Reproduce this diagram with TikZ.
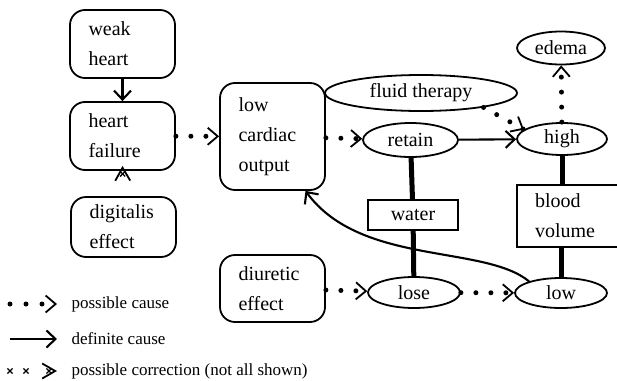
\documentclass[tikz,border=0pt]{standalone}
\usepackage{fontspec}
\setmainfont{Liberation Serif}
\usetikzlibrary{arrows.meta,shapes.geometric,decorations.markings}
\newcommand\xmark{\draw[line width=1.3pt,solid,line cap=butt] (-2.6pt,-2.6pt)--(2.6pt,2.6pt) (-2.6pt,2.6pt)--(2.6pt,-2.6pt);}

\begin{document}
\begin{tikzpicture}[x=1pt,y=-1pt,
  box/.style={draw,line width=1.8pt,rounded corners=15pt,align=left,text width=68pt,
    inner xsep=18pt,inner ysep=0pt,minimum width=105pt,font=\fontsize{20}{30}\selectfont},
  oval/.style={ellipse,draw,line width=1.8pt,inner sep=0pt,font=\fontsize{20}{24}\selectfont},
  plain/.style={draw,line width=1.8pt,inner sep=0pt,font=\fontsize{20}{30}\selectfont},
  legend/.style={anchor=west,font=\fontsize{17}{20}\selectfont},
  cause/.style={line width=2.1pt,-{Straight Barb[length=9pt,width=17pt]}},
  maybe/.style={line width=5pt,line cap=round,dash pattern=on 0pt off 15pt,
    postaction={draw,line width=1.8pt,line cap=butt,dash pattern=on 0pt off 3000pt,
      -{Straight Barb[length=10pt,width=17pt]}}},
  fix/.style={draw=none,
    postaction={draw,line width=1.8pt,line cap=butt,dash pattern=on 0pt off 3000pt,
      -{Straight Barb[length=13pt,width=15pt]}},
    postaction={decorate,decoration={markings,mark=at position -8pt with {\xmark}}}},
  link/.style={line width=5pt}]
\useasboundingbox (0,0) rectangle (617,380);
\fill[white] (0,0) rectangle (617,380);

% HEART CHAIN
\node[box,minimum height=68pt] (wk) at (122.5,44) {weak\\heart};
\node[box,minimum height=68pt] (hf) at (122.5,136) {heart\\failure};
\node[box,minimum height=60pt] (dg) at (123.5,227) {digitalis\\effect};
\node[box,minimum height=107pt] (lco) at (272.5,136.5) {low\\cardiac\\output};
\node[box,minimum height=67pt] (du) at (272.5,288.5) {diuretic\\effect};

\draw[cause] (wk) -- (hf);
\draw[fix] (dg) -- ([yshift=5pt]hf.south);
\draw[maybe] (hf) -- (lco);

% WATER AND BLOOD VOLUME
\node[oval,minimum width=192pt,minimum height=36pt] (ft) at (421,93) {fluid therapy};
\node[oval,minimum width=95pt,minimum height=34pt] (ret) at (410.5,140) {retain};
\node[oval,minimum width=90pt,minimum height=32pt] (hi) at (562,139) {high};
\node[oval,minimum width=88pt,minimum height=33pt] (ed) at (561,48) {edema};
\node[oval,minimum width=92pt,minimum height=31pt] (ls) at (414,292.5) {lose};
\node[oval,minimum width=92pt,minimum height=30pt] (lw) at (561,293) {low};
\node[plain,minimum width=90pt,minimum height=30pt] (wt) at (413,215) {water};
\node[plain,align=left,text width=67pt,inner xsep=18pt,minimum height=62pt] (bv) at (568.5,216) {blood\\volume};

\draw[maybe] (lco) -- (ret);
\draw[cause] (ret) -- (hi);
\draw[maybe] (ft.-13) -- (hi.166);
\draw[maybe] (hi) -- (ed);
\draw[maybe] (du) -- (ls);
\draw[maybe] (ls) -- (lw);
\draw[link] (ret) -- (wt);
\draw[link] (wt) -- (ls);
\draw[link] (hi) -- (hi.south |- bv.north);
\draw[link] (lw.north |- bv.south) -- (lw);
\draw[cause] (lw.160) .. controls +(-45,-37) and +(55,75) .. ([xshift=33pt]lco.south);

% KEY
\coordinate (k1a) at (10,304); \coordinate (k1b) at (57,304);
\coordinate (k2a) at (10,339); \coordinate (k2b) at (57,339);
\coordinate (k3a) at (10,371); \coordinate (k3b) at (57,371);
\draw[maybe,dash pattern=on 0pt off 16pt] (k1a) -- (k1b);
\draw[cause] (k2a) -- (k2b);
\draw[fix,postaction={decorate,decoration={markings,mark=between positions 0 and 16pt step 16pt with {\xmark}}}] (k3a) -- (k3b);
\node[legend] (t1) at (68,304) {possible cause};
\node[legend] (t2) at (68,339) {definite cause};
\node[legend] (t3) at (68,371) {possible correction (not all shown)};
\end{tikzpicture}
\end{document}
